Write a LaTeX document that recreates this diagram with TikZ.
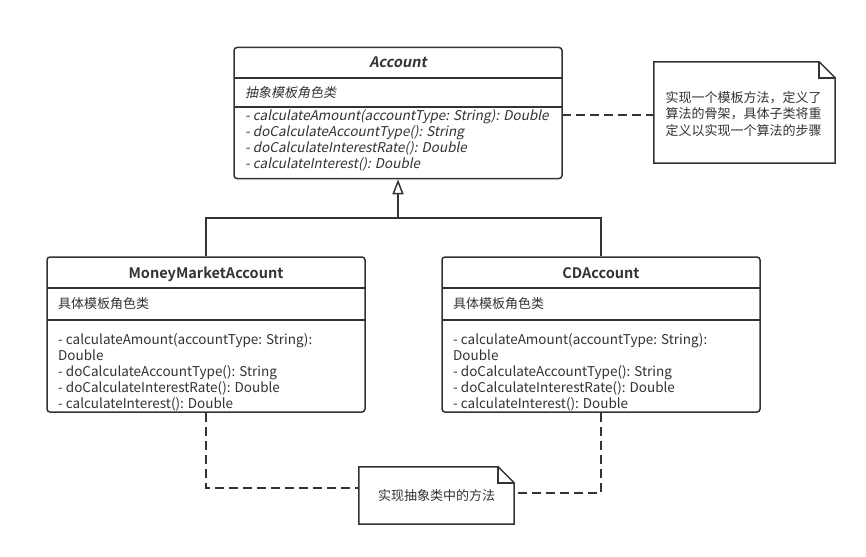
\documentclass[tikz,border=0pt]{standalone}
\usepackage{fontspec}
\setmainfont{Noto Sans CJK SC}[BoldFont={Noto Sans CJK SC Bold}, ItalicFont={Noto Sans CJK SC}, ItalicFeatures={FakeSlant=0.2}, BoldItalicFont={Noto Sans CJK SC Bold}, BoldItalicFeatures={FakeSlant=0.2}]
\usetikzlibrary{arrows.meta}
\definecolor{ink}{HTML}{333333}
\begin{document}
\begin{tikzpicture}[x=1pt,y=-1pt,
  classbox/.style={draw=ink, line width=1.5pt, rounded corners=3pt, fill=white, inner sep=0pt},
  divider/.style={draw=ink, line width=1.5pt},
  txt/.style={anchor=base west, inner sep=0pt, text=ink, font=\fontsize{13.5}{16}\selectfont},
  ctxt/.style={anchor=base west, inner sep=0pt, text=ink, font=\fontsize{13}{16}\selectfont},
  ttl/.style={anchor=base, inner sep=0pt, text=ink, font=\fontsize{14.5}{16}\selectfont\bfseries},
  ntxt/.style={inner sep=0pt, text=ink, align=center, font=\fontsize{13}{16.5}\selectfont},
  notebox/.style={draw=ink, line width=1.5pt, fill=white},
  dashline/.style={draw=ink, line width=1.5pt, dash pattern=on 9pt off 5pt},
  solidline/.style={draw=ink, line width=1.5pt}
]
\useasboundingbox[fill=white] (0,0) rectangle (866,556);

% ---- Account ----
\node[classbox, minimum width=328pt, minimum height=131pt] (acc) at (398,113) {};
\draw[divider] (234,78) -- (562,78);
\draw[divider] (234,107) -- (562,107);
\node[ttl] (accT) at (398,68) {\itshape Account};
\node[ctxt] (accS) at (245,98) {\itshape 抽象模板角色类};
\node[txt] (accM1) at (245,121) {\itshape - calculateAmount(accountType: String): Double};
\node[txt] (accM2) at (245,137) {\itshape - doCalculateAccountType(): String};
\node[txt] (accM3) at (245,153) {\itshape - doCalculateInterestRate(): Double};
\node[txt] (accM4) at (245,168.5) {\itshape - calculateInterest(): Double};

% ---- MoneyMarketAccount ----
\node[classbox, minimum width=318pt, minimum height=155pt] (mma) at (206,334.5) {};
\draw[divider] (47,288) -- (365,288);
\draw[divider] (47,320) -- (365,320);
\node[ttl] (mmaT) at (206,278.5) {MoneyMarketAccount};
\node[ctxt] (mmaS) at (58,308) {具体模板角色类};
\node[txt] (mmaM1) at (58,344) {- calculateAmount(accountType: String):};
\node[txt] (mmaM1b) at (58,360) {Double};
\node[txt] (mmaM2) at (58,376) {- doCalculateAccountType(): String};
\node[txt] (mmaM3) at (58,392) {- doCalculateInterestRate(): Double};
\node[txt] (mmaM4) at (58,408) {- calculateInterest(): Double};

% ---- CDAccount ----
\node[classbox, minimum width=318pt, minimum height=155pt] (cd) at (601,334.5) {};
\draw[divider] (442,288) -- (760,288);
\draw[divider] (442,320) -- (760,320);
\node[ttl] (cdT) at (601,278.5) {CDAccount};
\node[ctxt] (cdS) at (453,308) {具体模板角色类};
\node[txt] (cdM1) at (453,344) {- calculateAmount(accountType: String):};
\node[txt] (cdM1b) at (453,360) {Double};
\node[txt] (cdM2) at (453,376) {- doCalculateAccountType(): String};
\node[txt] (cdM3) at (453,392) {- doCalculateInterestRate(): Double};
\node[txt] (cdM4) at (453,408) {- calculateInterest(): Double};

% ---- Note 1 ----
\node[minimum width=181pt, minimum height=101pt, inner sep=0pt] (n1) at (744.5,112.5) {};
\draw[notebox] (n1.north west) -- ([xshift=-16pt]n1.north east) -- ([yshift=-16pt]n1.north east) -- (n1.south east) -- (n1.south west) -- cycle;
\draw[solidline] ([xshift=-16pt]n1.north east) -- ([xshift=-16pt,yshift=-16pt]n1.north east) -- ([yshift=-16pt]n1.north east);
\node[ntxt] (n1T) at (743.5,114) {实现一个模板方法，定义了\\算法的骨架，具体子类将重\\定义以实现一个算法的步骤};

% ---- Note 2 ----
\node[minimum width=155pt, minimum height=57pt, inner sep=0pt] (n2) at (436.5,495.5) {};
\draw[notebox] (n2.north west) -- ([xshift=-16pt]n2.north east) -- ([yshift=-16pt]n2.north east) -- (n2.south east) -- (n2.south west) -- cycle;
\draw[solidline] ([xshift=-16pt]n2.north east) -- ([xshift=-16pt,yshift=-16pt]n2.north east) -- ([yshift=-16pt]n2.north east);
\node[ntxt] (n2T) at (436.5,495.5) {实现抽象类中的方法};

% ---- connectors ----
\coordinate (a1) at (562,115);
\draw[dashline] (a1) -- (a1 -| n1.west);

\coordinate (j) at (398,218);
\draw[solidline] (mma.north) |- (j);
\draw[solidline] (cd.north) |- (j);
\draw[solidline, -{Triangle[open, length=15pt, width=11pt, line width=1.5pt]}] (j) -- (acc.south);

\coordinate (b1) at (207,488);
\coordinate (b2) at (602,493);
\draw[dashline] (mma.south) -- (mma.south |- b1) -- (b1 -| n2.west);
\draw[dashline] (cd.south) -- (cd.south |- b2) -- (b2 -| n2.east);
\end{tikzpicture}
\end{document}
